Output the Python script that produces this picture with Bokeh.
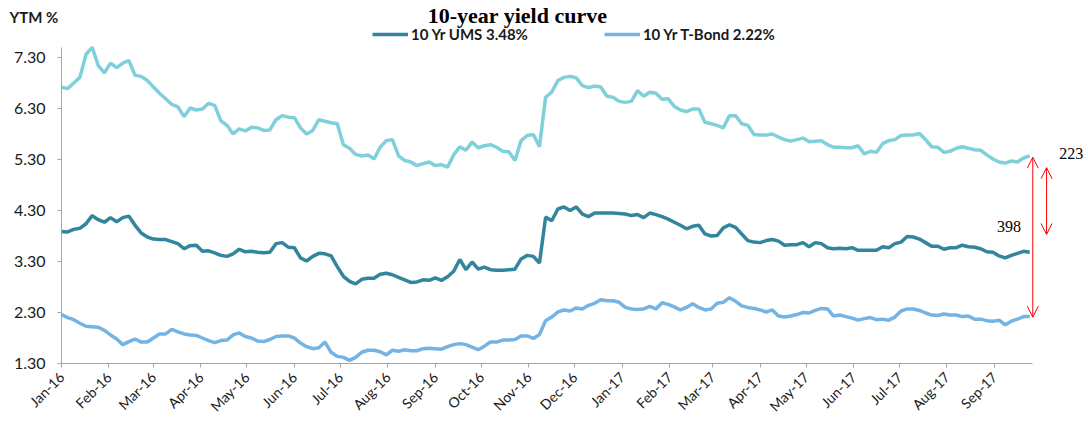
import math
import pandas as pd
from bokeh.plotting import figure
from bokeh.models import (Range1d, FixedTicker, DatetimeTickFormatter, PrintfTickFormatter,
                          Legend, LegendItem, Label, Arrow, OpenHead)
from bokeh.embed import file_html
from bokeh.resources import INLINE

# ---- data (samples every 4 days from 2016-01-01) ----
mbono_10y = [6.72, 6.69, 6.80, 6.91, 7.36, 7.50, 7.14, 7.00, 7.19, 7.10,
             7.19, 7.24, 6.95, 6.93, 6.85, 6.72, 6.60, 6.49, 6.38, 6.33,
             6.14, 6.31, 6.27, 6.29, 6.40, 6.36, 6.06, 5.97, 5.80, 5.90,
             5.86, 5.93, 5.92, 5.87, 5.88, 6.08, 6.16, 6.13, 6.12, 5.92,
             5.80, 5.87, 6.08, 6.05, 6.02, 6.00, 5.59, 5.52, 5.40, 5.37,
             5.39, 5.31, 5.54, 5.67, 5.69, 5.37, 5.28, 5.25, 5.18, 5.22,
             5.25, 5.18, 5.20, 5.15, 5.39, 5.55, 5.48, 5.64, 5.53, 5.57,
             5.59, 5.54, 5.46, 5.45, 5.28, 5.67, 5.77, 5.79, 5.55, 6.52,
             6.62, 6.85, 6.91, 6.93, 6.90, 6.75, 6.71, 6.74, 6.72, 6.54,
             6.52, 6.44, 6.42, 6.44, 6.65, 6.54, 6.62, 6.60, 6.48, 6.49,
             6.34, 6.27, 6.24, 6.29, 6.29, 6.03, 6.00, 5.97, 5.92, 6.16,
             6.16, 6.00, 5.97, 5.79, 5.78, 5.78, 5.80, 5.74, 5.69, 5.66,
             5.69, 5.72, 5.65, 5.66, 5.67, 5.59, 5.54, 5.54, 5.53, 5.53,
             5.57, 5.41, 5.46, 5.44, 5.61, 5.67, 5.69, 5.77, 5.78, 5.78,
             5.81, 5.69, 5.55, 5.54, 5.44, 5.46, 5.52, 5.55, 5.52, 5.49,
             5.48, 5.39, 5.31, 5.25, 5.23, 5.27, 5.25, 5.33, 5.37]

ums_10y = [3.89, 3.88, 3.93, 3.95, 4.04, 4.20, 4.12, 4.07, 4.16, 4.08,
           4.16, 4.19, 4.01, 3.86, 3.78, 3.74, 3.73, 3.73, 3.69, 3.65,
           3.55, 3.61, 3.62, 3.50, 3.51, 3.47, 3.42, 3.40, 3.45, 3.54,
           3.49, 3.50, 3.48, 3.47, 3.48, 3.65, 3.67, 3.58, 3.57, 3.37,
           3.31, 3.40, 3.46, 3.45, 3.41, 3.20, 3.01, 2.91, 2.86, 2.95,
           2.97, 2.97, 3.05, 3.07, 3.04, 2.99, 2.94, 2.89, 2.90, 2.94,
           2.93, 2.98, 2.93, 3.00, 3.11, 3.34, 3.14, 3.29, 3.15, 3.19,
           3.14, 3.13, 3.13, 3.14, 3.15, 3.35, 3.42, 3.40, 3.27, 4.17,
           4.10, 4.33, 4.37, 4.30, 4.37, 4.23, 4.18, 4.25, 4.25, 4.25,
           4.25, 4.24, 4.23, 4.20, 4.22, 4.16, 4.25, 4.22, 4.18, 4.13,
           4.07, 4.01, 3.94, 3.99, 4.01, 3.84, 3.80, 3.81, 3.96, 4.02,
           3.97, 3.84, 3.71, 3.68, 3.67, 3.71, 3.73, 3.70, 3.62, 3.63,
           3.63, 3.67, 3.59, 3.67, 3.65, 3.57, 3.55, 3.56, 3.55, 3.57,
           3.52, 3.52, 3.52, 3.52, 3.59, 3.57, 3.65, 3.68, 3.79, 3.78,
           3.74, 3.67, 3.60, 3.60, 3.54, 3.57, 3.57, 3.62, 3.59, 3.58,
           3.55, 3.49, 3.48, 3.41, 3.37, 3.42, 3.46, 3.50, 3.48]

tbond_10y = [2.26, 2.20, 2.16, 2.09, 2.03, 2.02, 2.01, 1.95, 1.86, 1.78,
             1.67, 1.73, 1.78, 1.72, 1.72, 1.80, 1.88, 1.88, 1.97, 1.92,
             1.88, 1.86, 1.85, 1.80, 1.75, 1.71, 1.75, 1.76, 1.86, 1.90,
             1.83, 1.80, 1.74, 1.73, 1.77, 1.83, 1.84, 1.84, 1.80, 1.70,
             1.63, 1.59, 1.61, 1.72, 1.52, 1.44, 1.42, 1.36, 1.42, 1.52,
             1.56, 1.56, 1.53, 1.47, 1.56, 1.54, 1.57, 1.55, 1.55, 1.59,
             1.60, 1.59, 1.58, 1.63, 1.67, 1.69, 1.67, 1.62, 1.57, 1.64,
             1.72, 1.72, 1.76, 1.76, 1.77, 1.84, 1.84, 1.79, 1.87, 2.14,
             2.21, 2.31, 2.35, 2.33, 2.39, 2.37, 2.44, 2.48, 2.55, 2.53,
             2.53, 2.50, 2.40, 2.37, 2.36, 2.37, 2.42, 2.37, 2.49, 2.46,
             2.41, 2.35, 2.40, 2.47, 2.40, 2.35, 2.37, 2.48, 2.50, 2.59,
             2.52, 2.43, 2.40, 2.38, 2.35, 2.31, 2.35, 2.23, 2.21, 2.23,
             2.26, 2.30, 2.29, 2.34, 2.38, 2.37, 2.23, 2.25, 2.22, 2.19,
             2.15, 2.18, 2.20, 2.16, 2.17, 2.15, 2.21, 2.33, 2.37, 2.37,
             2.34, 2.29, 2.25, 2.24, 2.27, 2.25, 2.25, 2.22, 2.23, 2.17,
             2.17, 2.14, 2.13, 2.15, 2.06, 2.13, 2.17, 2.22, 2.22]

dates = pd.date_range("2016-01-01", periods=len(ums_10y), freq="4D")

month_ticks = ["2016-01-01", "2016-02-01", "2016-03-01", "2016-04-01", "2016-05-01",
               "2016-06-01", "2016-07-01", "2016-08-01", "2016-09-01", "2016-10-01",
               "2016-11-01", "2016-12-01", "2017-01-01", "2017-02-01", "2017-03-01",
               "2017-04-01", "2017-05-01", "2017-06-01", "2017-07-01", "2017-08-01",
               "2017-09-01"]
y_ticks = [1.30, 2.30, 3.30, 4.30, 5.30, 6.30, 7.30]

legend_ums = "10 Yr UMS 3.48%"
legend_tbond = "10 Yr T-Bond 2.22%"
title_text = "10-year yield curve"
y_title = "YTM %"
spread_long = "398"
spread_short = "223"


def ms(s):
    return pd.Timestamp(s).value / 1e6


W, H = 1088, 425
p = figure(width=W, height=H, x_axis_type="datetime",
           x_range=Range1d(ms("2015-11-22 04:19"), ms("2017-11-01 08:53")),
           y_range=Range1d(0.0843, 8.4176),
           output_backend="svg", toolbar_location=None,
           min_border=0, min_border_left=0, min_border_right=0,
           min_border_top=0, min_border_bottom=0)

p.outline_line_color = None
p.xgrid.visible = False
p.ygrid.visible = False
p.background_fill_color = "white"
p.border_fill_color = "white"

r_mb = p.line(dates, mbono_10y, line_color="#7fd0da", line_width=3.5)
r_ums = p.line(dates, ums_10y, line_color="#31859c", line_width=3.5)
r_tb = p.line(dates, tbond_10y, line_color="#74b4e4", line_width=3.5)

axis_gray = "#a6a6a6"
for ax in (p.xaxis[0], p.yaxis[0]):
    ax.axis_line_color = axis_gray
    ax.major_tick_line_color = axis_gray
    ax.minor_tick_line_color = None
    ax.major_tick_in = 0
    ax.major_tick_out = 4
    ax.major_label_text_font = "Lato"
    ax.major_label_text_color = "#1a1a1a"

# axes drawn at fixed positions inside the plot area (they stay in the left/below panels)
p.xaxis.fixed_location = 1.30
p.yaxis.fixed_location = ms("2016-01-01")

p.xaxis.bounds = (ms("2016-01-01"), ms("2017-09-26"))
p.xaxis.ticker = FixedTicker(ticks=[ms(d) for d in month_ticks])
p.xaxis.formatter = DatetimeTickFormatter(days="%b-%y", months="%b-%y", years="%b-%y")
p.xaxis.major_label_orientation = math.pi / 4
p.xaxis.major_label_text_font_size = "14px"
p.xaxis.major_label_standoff = 7

p.yaxis.bounds = (1.30, 7.50)
p.yaxis.ticker = FixedTicker(ticks=y_ticks)
p.yaxis.formatter = PrintfTickFormatter(format="%.2f")
p.yaxis.major_label_text_font_size = "16px"
p.yaxis.major_label_standoff = 12

legend = Legend(items=[LegendItem(label=legend_ums, renderers=[r_ums]),
                       LegendItem(label=legend_tbond, renderers=[r_tb])],
                orientation="horizontal", location=(372, 382),
                glyph_width=36, glyph_height=16, label_standoff=3, spacing=76,
                padding=0, margin=0, border_line_color=None, background_fill_alpha=0,
                label_text_font="Lato", label_text_font_style="bold",
                label_text_font_size="15px", label_text_color="#1a1a1a")
p.add_layout(legend)

p.add_layout(Label(x=517, y=H - 15, x_units="screen", y_units="screen", text=title_text,
                   text_align="center", text_baseline="alphabetic",
                   text_font="Liberation Serif", text_font_style="bold",
                   text_font_size="22px", text_color="black"))
p.add_layout(Label(x=9, y=H - 16, x_units="screen", y_units="screen", text=y_title,
                   text_align="left", text_baseline="alphabetic",
                   text_font="Lato", text_font_style="bold",
                   text_font_size="15px", text_color="#1a1a1a"))

p.add_layout(Label(x=ms("2017-09-10 12:00"), y=3.99, text=spread_long,
                   text_align="center", text_baseline="alphabetic",
                   text_font="Liberation Serif", text_font_size="16px", text_color="black"))
p.add_layout(Label(x=ms("2017-10-29"), y=5.42, text=spread_short,
                   text_align="right", text_baseline="alphabetic",
                   text_font="Liberation Serif", text_font_size="16px", text_color="black"))

for xs, y0, y1 in ((ms("2017-09-26"), 5.345, 2.208), (ms("2017-10-05"), 5.14, 3.83)):
    p.add_layout(Arrow(start=OpenHead(size=11, line_color="red", line_width=1),
                       end=OpenHead(size=11, line_color="red", line_width=1),
                       x_start=xs, y_start=y0, x_end=xs, y_end=y1,
                       line_color="red", line_width=1))

open("out.html", "w").write(file_html(p, INLINE))
